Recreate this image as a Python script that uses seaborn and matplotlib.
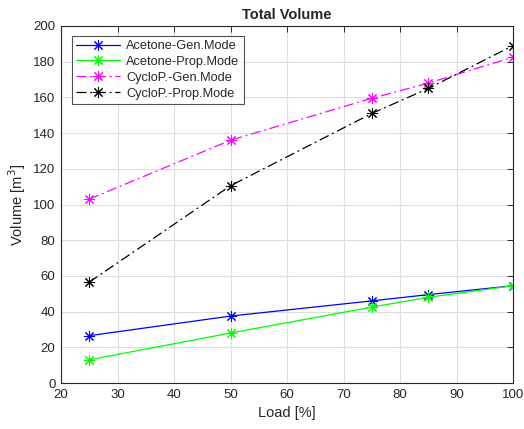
import matplotlib
matplotlib.use("Agg")
import matplotlib.pyplot as plt
import seaborn as sns
import pandas as pd

# Load points and total volume per configuration
load = [25, 50, 75, 85, 100]
acetone_gen = [26.5, 37.5, 46.0, 49.5, 54.5]
acetone_prop = [13.0, 28.0, 42.5, 48.0, 54.5]
cyclop_gen = [103.0, 136.0, 159.5, 168.0, 182.5]
cyclop_prop = [56.5, 110.5, 151.0, 165.0, 189.0]

series = [
    ("Acetone-Gen.Mode", acetone_gen, "#0000ff", "-"),
    ("Acetone-Prop.Mode", acetone_prop, "#00ff00", "-"),
    ("CycloP.-Gen.Mode", cyclop_gen, "#ff00ff", (0, (8, 3, 1.5, 3))),
    ("CycloP.-Prop.Mode", cyclop_prop, "#000000", (0, (8, 3, 1.5, 3))),
]

sns.set_style("white")
plt.rcParams["font.family"] = ["Liberation Sans", "DejaVu Sans"]

fig = plt.figure(figsize=(5.24, 4.29), dpi=100)
ax = fig.add_axes([61 / 524, 1 - 383 / 429, (513 - 61) / 524, (383 - 26) / 429])

star = (8, 2, 0)
for name, vals, color, ls in series:
    df = pd.DataFrame({"Load": load, "Volume": vals})
    sns.lineplot(data=df, x="Load", y="Volume", ax=ax, color=color,
                 linestyle=ls, linewidth=0.9, marker=star, markersize=8,
                 markeredgewidth=0.75, markeredgecolor=color, label=name)

ax.set_xlim(20, 100)
ax.set_ylim(0, 200)
ax.set_xticks(range(20, 101, 10))
ax.set_yticks(range(0, 201, 20))
ax.grid(True, color="#dedede", linewidth=0.8)
ax.set_axisbelow(True)
for s in ax.spines.values():
    s.set_visible(True)
    s.set_color("#262626")
    s.set_linewidth(0.8)
ax.tick_params(direction="in", length=4, width=0.7, labelsize=9.5,
               colors="#262626", top=True, right=True, labeltop=False,
               labelright=False, pad=4)
ax.set_xlabel("Load [%]", fontsize=10.5, color="#262626")
ax.set_ylabel("Volume [m$^3$]", fontsize=10.5, color="#262626")
ax.set_title("Total Volume", fontsize=10.5, fontweight="bold", pad=5)

leg = ax.legend(loc="upper left", bbox_to_anchor=(0.024, 0.973), fontsize=9.2,
                frameon=True, fancybox=False, edgecolor="#262626",
                handlelength=3.4, borderpad=0.35, labelspacing=0.3,
                handletextpad=0.5, borderaxespad=0)
leg.get_frame().set_linewidth(0.8)

fig.savefig("out.png", dpi=100)
